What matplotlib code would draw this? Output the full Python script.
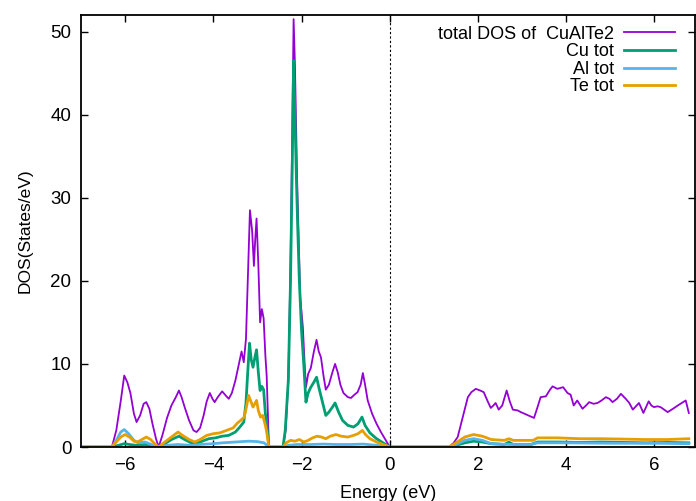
import matplotlib
matplotlib.use("Agg")
import matplotlib.pyplot as plt

plt.rcParams['font.family'] = ['Liberation Sans', 'DejaVu Sans']

# ---- data ----
total_E = [-7.0, -6.30, -6.20, -6.10, -6.02, -5.95, -5.88, -5.80, -5.74, -5.66, -5.58, -5.52, -5.45, -5.38,
           -5.30, -5.24, -5.15, -5.05, -4.95, -4.85, -4.78, -4.72, -4.65, -4.55, -4.45, -4.38, -4.30, -4.22,
           -4.15, -4.08, -4.02, -3.97, -3.90, -3.80, -3.72, -3.65, -3.58, -3.50, -3.42, -3.36, -3.31, -3.26,
           -3.22, -3.17, -3.12, -3.08, -3.05, -3.02, -2.98, -2.94, -2.90, -2.86, -2.82, -2.79, -2.74, -2.42,
           -2.36, -2.30, -2.25, -2.21, -2.18, -2.15, -2.13, -2.10, -2.07, -2.03, -1.97, -1.93, -1.90, -1.85,
           -1.79, -1.72, -1.66, -1.61, -1.56, -1.50, -1.45, -1.38, -1.30, -1.24, -1.18, -1.12, -1.05, -0.95,
           -0.88, -0.80, -0.73, -0.66, -0.61, -0.56, -0.50, -0.40, -0.30, -0.20, -0.10, 0.0,
           1.34, 1.45, 1.54, 1.65, 1.77, 1.85, 1.95, 2.05, 2.13, 2.22, 2.29, 2.35, 2.40, 2.47, 2.55, 2.65,
           2.72, 2.79, 2.90, 2.97, 3.10, 3.27, 3.35, 3.42, 3.54, 3.62, 3.69, 3.80, 3.93, 4.03, 4.10, 4.17,
           4.25, 4.37, 4.45, 4.52, 4.62, 4.71, 4.80, 4.90, 4.98, 5.05, 5.15, 5.24, 5.35, 5.43, 5.51, 5.58,
           5.65, 5.75, 5.87, 5.93, 5.99, 6.07, 6.14, 6.22, 6.30, 6.42, 6.53, 6.62, 6.71, 6.78]
total_D = [0, 0, 2.0, 5.5, 8.6, 7.8, 6.5, 4.0, 3.0, 3.8, 5.2, 5.4, 4.6, 2.8,
           1.0, 0, 1.5, 3.5, 5.0, 6.0, 6.8, 6.0, 4.8, 3.2, 2.0, 1.8, 2.3, 3.8,
           5.5, 6.5, 5.8, 5.4, 6.0, 6.7, 6.2, 5.8, 6.5, 8.0, 10.0, 11.5, 10.2, 13.0,
           20.0, 28.5, 26.0, 21.8, 25.0, 27.5, 22.0, 15.0, 16.6, 15.5, 11.0, 8.5, 0, 0,
           2.0, 8.0, 22.0, 38.0, 51.5, 46.0, 40.5, 32.0, 26.0, 18.0, 14.4, 10.0, 7.2, 8.8,
           9.5, 11.5, 12.9, 11.5, 10.8, 8.5, 6.9, 7.5, 9.0, 10.0, 9.0, 7.5, 6.5, 6.0,
           5.9, 6.3, 6.6, 7.5, 8.9, 7.5, 5.6, 4.0, 2.8, 1.8, 0.9, 0,
           0, 0.5, 1.2, 3.5, 6.0, 6.6, 7.0, 6.8, 6.6, 5.5, 4.7, 5.0, 5.3, 4.5, 5.0, 6.8,
           5.5, 4.5, 4.4, 4.2, 3.9, 3.5, 4.8, 6.0, 6.1, 6.8, 7.3, 7.0, 7.2, 6.5, 6.3, 5.0,
           5.6, 4.6, 5.0, 5.4, 5.2, 5.3, 5.6, 6.0, 5.8, 5.4, 5.8, 6.4, 5.8, 5.3, 4.5, 4.9,
           5.3, 4.1, 5.5, 5.0, 4.8, 4.9, 4.8, 4.5, 4.2, 4.6, 5.0, 5.3, 5.6, 4.1]

cu_E = [-7.0, -6.30, -6.15, -6.02, -5.90, -5.75, -5.55, -5.35, -5.24, -5.10, -4.95, -4.78, -4.65, -4.50,
        -4.40, -4.25, -4.10, -3.95, -3.80, -3.65, -3.50, -3.40, -3.31, -3.26, -3.22, -3.18, -3.14, -3.10,
        -3.05, -3.02, -2.98, -2.94, -2.90, -2.86, -2.82, -2.79, -2.74, -2.42, -2.37, -2.30, -2.25, -2.21,
        -2.18, -2.15, -2.12, -2.09, -2.05, -2.00, -1.95, -1.90, -1.85, -1.79, -1.72, -1.66, -1.60, -1.53,
        -1.45, -1.38, -1.30, -1.24, -1.16, -1.07, -0.95, -0.82, -0.72, -0.63, -0.56, -0.45, -0.30, -0.15, 0.0,
        1.34, 1.50, 1.70, 1.90, 2.10, 2.30, 2.60, 2.70, 2.80, 3.20, 3.35, 3.80, 4.30, 4.80, 5.30, 5.80,
        6.30, 6.78]
cu_D = [0, 0, 0.2, 0.4, 0.3, 0.2, 0.3, 0.1, 0, 0.4, 0.9, 1.3, 0.9, 0.5,
        0.4, 0.7, 1.0, 1.1, 1.3, 1.4, 1.8, 2.4, 3.0, 5.3, 9.0, 12.5, 10.5, 9.6,
        11.0, 11.7, 9.0, 6.8, 7.3, 6.9, 4.0, 2.9, 0, 0, 2.0, 8.0, 20.0, 34.0,
        46.5, 40.0, 33.0, 27.0, 20.0, 14.0, 10.0, 5.4, 6.5, 7.2, 7.8, 8.4, 7.0, 5.5,
        3.8, 4.2, 4.8, 5.3, 4.2, 3.2, 2.6, 2.4, 2.8, 3.6, 2.6, 1.7, 1.0, 0.5, 0,
        0, 0.2, 0.5, 0.7, 0.6, 0.4, 0.3, 0.6, 0.3, 0.3, 0.6, 0.6, 0.55, 0.6, 0.55, 0.5,
        0.55, 0.5]

al_E = [-7.0, -6.30, -6.20, -6.10, -6.02, -5.92, -5.80, -5.70, -5.55, -5.40, -5.24, -5.05, -4.80, -4.50,
        -4.30, -4.00, -3.80, -3.50, -3.20, -3.00, -2.85, -2.74, -2.42, -2.30, -2.10, -1.80, -1.50, -1.20,
        -0.90, -0.60, -0.30, 0.0,
        1.34, 1.50, 1.70, 1.90, 2.10, 2.30, 2.70, 3.20, 3.35, 4.00, 5.00, 6.00, 6.78]
al_D = [0, 0, 0.8, 1.8, 2.1, 1.6, 0.8, 0.5, 0.6, 0.3, 0, 0.2, 0.3, 0.2,
        0.3, 0.4, 0.5, 0.6, 0.7, 0.65, 0.5, 0, 0, 0.2, 0.3, 0.3, 0.35, 0.3,
        0.3, 0.35, 0.2, 0,
        0, 0.3, 0.8, 1.0, 0.8, 0.4, 0.3, 0.3, 0.5, 0.5, 0.45, 0.45, 0.4]

te_E = [-7.0, -6.30, -6.20, -6.10, -6.00, -5.90, -5.80, -5.72, -5.62, -5.52, -5.42, -5.33, -5.24, -5.10,
        -4.95, -4.80, -4.70, -4.55, -4.42, -4.30, -4.15, -4.00, -3.85, -3.70, -3.55, -3.45, -3.38, -3.30,
        -3.25, -3.20, -3.15, -3.10, -3.05, -3.02, -2.98, -2.93, -2.88, -2.82, -2.79, -2.74, -2.42, -2.35,
        -2.25, -2.15, -2.05, -1.95, -1.85, -1.75, -1.65, -1.55, -1.45, -1.35, -1.22, -1.10, -0.95, -0.82,
        -0.72, -0.62, -0.55, -0.45, -0.30, -0.15, 0.0,
        1.34, 1.50, 1.70, 1.90, 2.10, 2.30, 2.60, 2.70, 2.80, 3.25, 3.35, 3.80, 4.30, 4.80, 5.30, 5.80,
        6.30, 6.78]
te_D = [0, 0, 0.6, 1.2, 1.5, 1.2, 0.7, 0.6, 0.9, 1.2, 0.9, 0.4, 0, 0.6,
        1.2, 1.8, 1.4, 0.9, 0.6, 0.9, 1.4, 1.6, 1.7, 2.0, 2.3, 2.9, 3.2, 3.6,
        4.8, 6.2, 5.5, 4.8, 5.3, 5.6, 4.4, 3.6, 3.8, 2.6, 1.8, 0, 0, 0.5,
        0.8, 0.7, 0.9, 0.6, 0.8, 1.1, 1.3, 1.2, 1.0, 1.3, 1.5, 1.3, 1.2, 1.4,
        1.6, 2.0, 1.5, 1.0, 0.6, 0.3, 0,
        0, 0.5, 1.2, 1.5, 1.3, 0.9, 0.8, 1.0, 0.8, 0.8, 1.1, 1.1, 1.0, 1.0, 0.95, 0.9,
        0.9, 1.0]

labels = ["total DOS of  CuAlTe2", "Cu tot", "Al tot", "Te tot"]
colors = ["#9400D3", "#009E73", "#56B4E9", "#E69F00"]
x_ticks = [-6, -4, -2, 0, 2, 4, 6]
y_ticks = [0, 10, 20, 30, 40, 50]

# ---- figure ----
fig = plt.figure(figsize=(6.96, 5.01), dpi=100)
ax = fig.add_axes([81/696, 54/501, 614/696, 432/501])

series = [(total_E, total_D), (cu_E, cu_D), (al_E, al_D), (te_E, te_D)]
widths = [1.3, 2.0, 2.0, 2.0]
for (E, D), lab, c, w in zip(series, labels, colors, widths):
    ax.plot(E, D, color=c, lw=w, label=lab)

ax.axvline(0, color='black', lw=0.8, ls=(0, (2, 2)))

ax.set_xlim(-7, 6.92)
ax.set_ylim(0, 52)
ax.set_xticks(x_ticks)
ax.set_yticks(y_ticks)
ax.tick_params(direction='in', top=True, right=True, length=5, width=1,
               labelsize=13.5, pad=7)
for s in ax.spines.values():
    s.set_linewidth(1.3)

ax.set_xlabel("Energy (eV)", fontsize=13, labelpad=8)
ax.set_ylabel("DOS(States/eV)", fontsize=12.5, labelpad=13)

leg = ax.legend(loc='upper right', bbox_to_anchor=(0.967, 0.975), frameon=False,
                markerfirst=False, fontsize=13,
                handlelength=2.8, handletextpad=0.55,
                labelspacing=0.03, borderpad=0, borderaxespad=0)

fig.savefig("out.png", dpi=100)
